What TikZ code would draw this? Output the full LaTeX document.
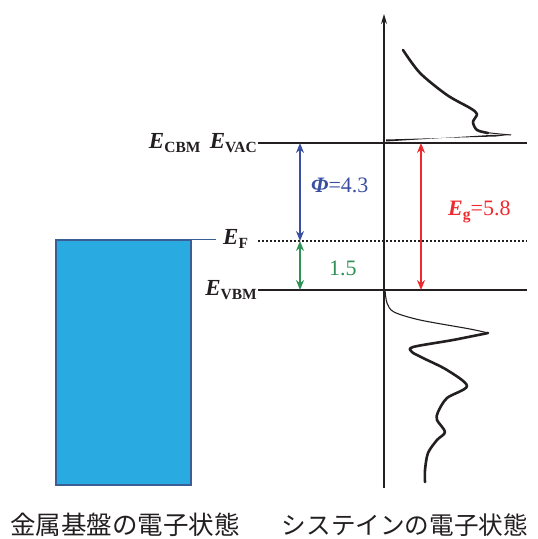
\documentclass[tikz,border=0pt]{standalone}
\usepackage{fontspec}
\setmainfont{Liberation Serif}
\newfontfamily\jpfont{Noto Sans CJK JP}
\usepackage{tikz}
\usetikzlibrary{arrows.meta,positioning}
\definecolor{ink}{HTML}{231F20}
\definecolor{metal}{HTML}{29ABE2}
\definecolor{metaledge}{HTML}{3B5F95}
\definecolor{cphi}{HTML}{3A4FA0}
\definecolor{cgreen}{HTML}{2E9155}
\definecolor{cred}{HTML}{EE2A2E}
% bold italic E with a bold upright subscript
\newcommand{\elab}[1]{\textbf{\textit{E}}\raisebox{-4pt}{\fontsize{15.5}{15.5}\selectfont\bfseries #1}}
\tikzset{
  level/.style={line width=1.8pt, color=ink},
  gap/.style={{Stealth[length=10pt,width=8pt]}-{Stealth[length=10pt,width=8pt]}, line width=1.4pt},
  lvlab/.style={font=\fontsize{23}{23}\selectfont, inner sep=1pt, text=ink},
  val/.style={font=\fontsize{22}{22}\selectfont, inner sep=0pt},
  caption/.style={font=\jpfont\fontsize{#1}{#1}\selectfont, inner sep=0pt, text=ink},
  dos/.style={line width=2.6pt, color=ink, line join=round, line cap=round},
}

\begin{document}
\begin{tikzpicture}[x=1pt,y=-1pt]
  \useasboundingbox (0,0) rectangle (538,539);
  % energy levels (y measured from the top)
  \def\yC{143} \def\yF{241} \def\yV{290}
  \def\xL{258} \def\xR{527}
  \coordinate (cbmL) at (\xL,\yC); \coordinate (cbmR) at (\xR,\yC);
  \coordinate (fL) at (\xL,\yF);   \coordinate (fR) at (\xR,\yF);
  \coordinate (vbmL) at (\xL,\yV); \coordinate (vbmR) at (\xR,\yV);
  \draw[level] (cbmL) -- (cbmR);
  \draw[level] (vbmL) -- (vbmR);
  \draw[ink, line width=1.3pt, dash pattern=on 1.6pt off 2.4pt] (fL) -- (fR);
  \node[lvlab, anchor=east] (evac) at (cbmL) {\elab{VAC}};
  \node[lvlab, anchor=east, xshift=-7pt] (ecbm) at (evac.west) {\elab{CBM}};
  \node[lvlab, anchor=east] (evbm) at (vbmL) {\elab{VBM}};

  % metal substrate
  \node[draw=metaledge, fill=metal, line width=2pt, inner sep=0pt, anchor=north west,
        minimum width=135pt, minimum height=245pt] (metal) at (55,239) {};
  \draw[metaledge, line width=1pt] (metal.north east) -- ++(24,0) coordinate (ftick);
  \node[lvlab, anchor=west, xshift=6pt] (ef) at (ftick) {\elab{F}};

  % DOS axis
  \coordinate (axB) at (384,488); \coordinate (axT) at (384,14);
  \draw[ink, line width=1.2pt, -{Stealth[length=10pt,width=6pt]}] (axB) -- (axT);

  % gaps
  \coordinate (phiT) at (300,\yC); \coordinate (phiB) at (300,\yF);
  \coordinate (vbT) at (300,\yF);  \coordinate (vbB) at (300,\yV);
  \coordinate (egT) at (421,\yC);  \coordinate (egB) at (421,\yV);
  \draw[gap, cphi] (phiT) -- (phiB);
  \draw[gap, cgreen] (vbT) -- (vbB);
  \draw[gap, cred] (egT) -- (egB);
  \node[val, text=cphi, anchor=west] (phi) at (311,185) {\textbf{\textit{Φ}}=4.3};
  \node[val, text=cgreen, anchor=west] (fvb) at (329,268) {1.5};
  \node[val, text=cred, anchor=west] (eg) at (448,212) {\elab{g}=5.8};

  % unoccupied states
  \draw[dos] plot[smooth] coordinates {(403,50) (420,73) (447,95) (470,108) (477,114)
    (473,122) (477,130) (488,133)};
  \fill[ink] (386,141.5) -- (490,135) -- (512,134.5) -- (496,136.5) -- (386,139.5) -- cycle;
  \draw[ink, line width=1pt] plot[smooth] coordinates {(486,132.5) (500,134) (511,135)};

  % occupied states
  \draw[ink, line width=1.1pt] plot[smooth] coordinates {(385,290) (387,303) (394,312)
    (420,320) (470,329) (488,333)};
  \draw[dos] plot[smooth] coordinates {(488,333) (453,340) (413,347) (412,352) (423,358)
    (447,370) (467,386) (447,398) (438,412) (437,420) (445,432) (437,440) (428,453)
    (425,470) (425,482)};

  % captions
  \node[caption=25.5, anchor=west] (capmetal) at (10,525) {金属基盤の電子状態};
  \node[caption=24.6, anchor=east] (capcys) at (528,525) {システインの電子状態};
\end{tikzpicture}
\end{document}
